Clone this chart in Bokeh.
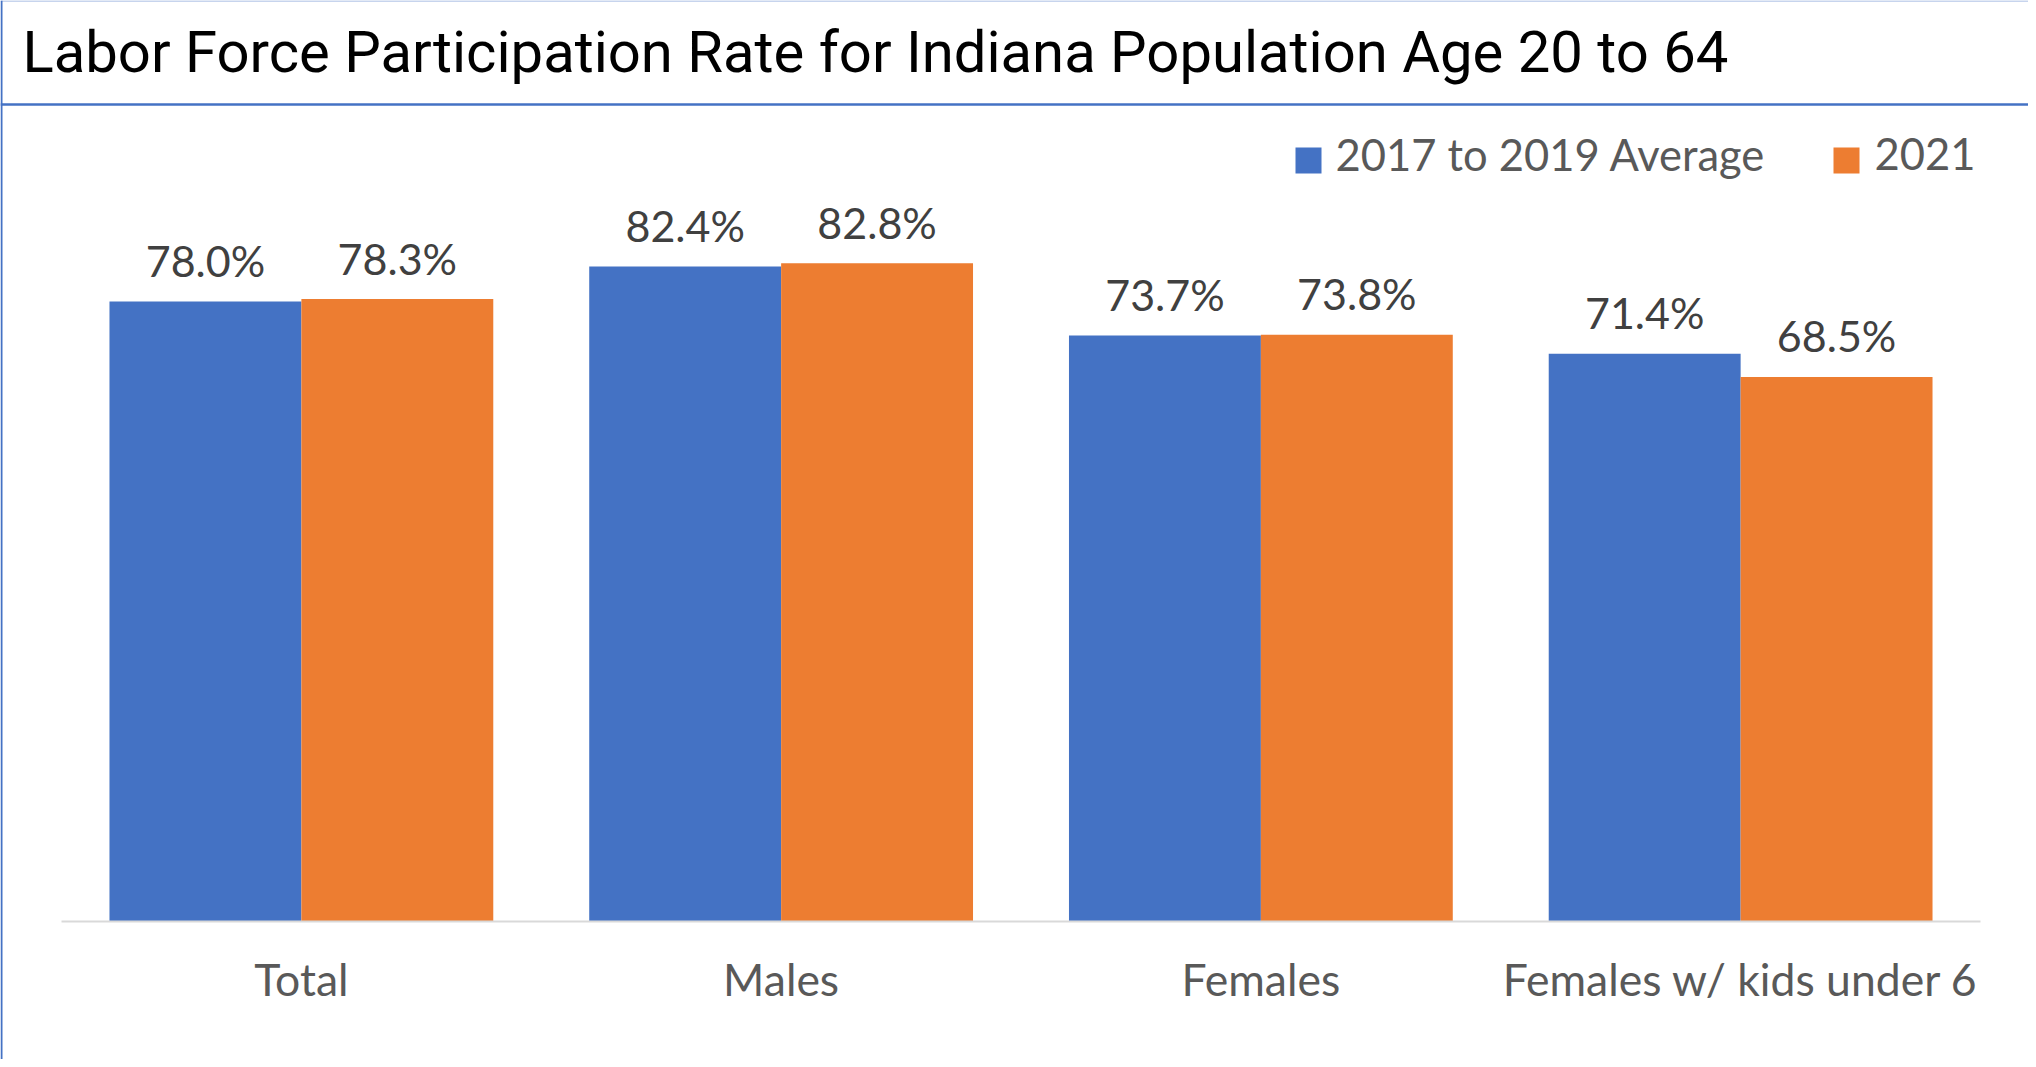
from bokeh.plotting import figure
from bokeh.models import Range1d, ColumnDataSource
from bokeh.core.properties import value
from bokeh.embed import file_html
from bokeh.resources import INLINE

# ---- data ----
title_text = "Labor Force Participation Rate for Indiana Population Age 20 to 64"
categories = ["Total", "Males", "Females", "Females w/ kids under 6"]
series_names = ["2017 to 2019 Average", "2021"]
avg_2017_2019 = [78.0, 82.4, 73.7, 71.4]
y2021 = [78.3, 82.8, 73.8, 68.5]
colors = ["#4472C4", "#ED7D31"]

# ---- layout constants (canvas pixels) ----
W, H = 2028, 1059
CW = 479.75          # pixels per category
X0 = 61              # canvas x of first category start
SY = 7.95            # pixels per percentage point
BASE = 921           # canvas y of baseline
FONT = "Lato"
TFONT = "Roboto"

def dx(cx):
    return (cx - X0) / CW

def dy(cy):
    return (BASE - cy) / SY

p = figure(width=W, height=H, output_backend="svg", toolbar_location=None,
           x_axis_type=None, y_axis_type=None, min_border=0,
           x_range=Range1d(dx(0), dx(W)), y_range=Range1d(dy(H), dy(0)))
p.outline_line_color = None
p.background_fill_color = "white"
p.border_fill_color = "white"
p.xgrid.visible = False
p.ygrid.visible = False

idx = list(range(len(categories)))
centers = [i + 0.5 for i in idx]
bw = 0.4

for k, (vals, col, off) in enumerate([(avg_2017_2019, colors[0], -0.2), (y2021, colors[1], 0.2)]):
    src = ColumnDataSource(dict(x=[c + off for c in centers], top=vals,
                                lab=[f"{v:.1f}%" for v in vals]))
    p.vbar(x="x", top="top", bottom=0, width=bw, source=src, fill_color=col,
           line_color=None)
    p.text(x="x", y="top", text="lab", source=src, text_align="center",
           text_baseline="alphabetic", y_offset=-41, text_color="#404040",
           text_font=value(FONT), text_font_size="43px")

# axis line
p.segment(x0=[0], x1=[len(categories)], y0=[0], y1=[0], line_color="#D9D9D9", line_width=2)

# category labels
p.text(x=centers, y=[0] * len(categories), text=categories, text_align="center",
       text_baseline="alphabetic", y_offset=56.5, text_color="#595959",
       text_font=value(FONT), text_font_size="44.5px")

# legend (manual)
leg_sq_x = [1308, 1846]
leg_tx_x = [1335, 1874]
p.rect(x=[dx(v) for v in leg_sq_x], y=[dy(160)] * 2, width=26, height=26,
       width_units="screen", height_units="screen", fill_color=colors, line_color=None)
p.text(x=[dx(v) for v in leg_tx_x], y=[dy(153.5)] * 2, text=series_names,
       text_align="left", text_baseline="alphabetic", text_color="#595959",
       text_font=value(FONT), text_font_size="43.5px")

# title bar
p.text(x=[dx(22)], y=[dy(51)], text=[title_text], text_align="left",
       text_baseline="alphabetic", text_color="#000000",
       text_font=value(TFONT), text_font_size="58px")
p.segment(x0=[dx(0)], x1=[dx(W)], y0=[dy(104)], y1=[dy(104)], line_color="#4472C4", line_width=2.5)
p.segment(x0=[dx(0)], x1=[dx(W)], y0=[dy(0.5)], y1=[dy(0.5)], line_color="#8FAADC", line_width=1)
p.segment(x0=[dx(1)], x1=[dx(1)], y0=[dy(0)], y1=[dy(H)], line_color="#4472C4", line_width=2)

open("out.html", "w").write(file_html(p, INLINE))
